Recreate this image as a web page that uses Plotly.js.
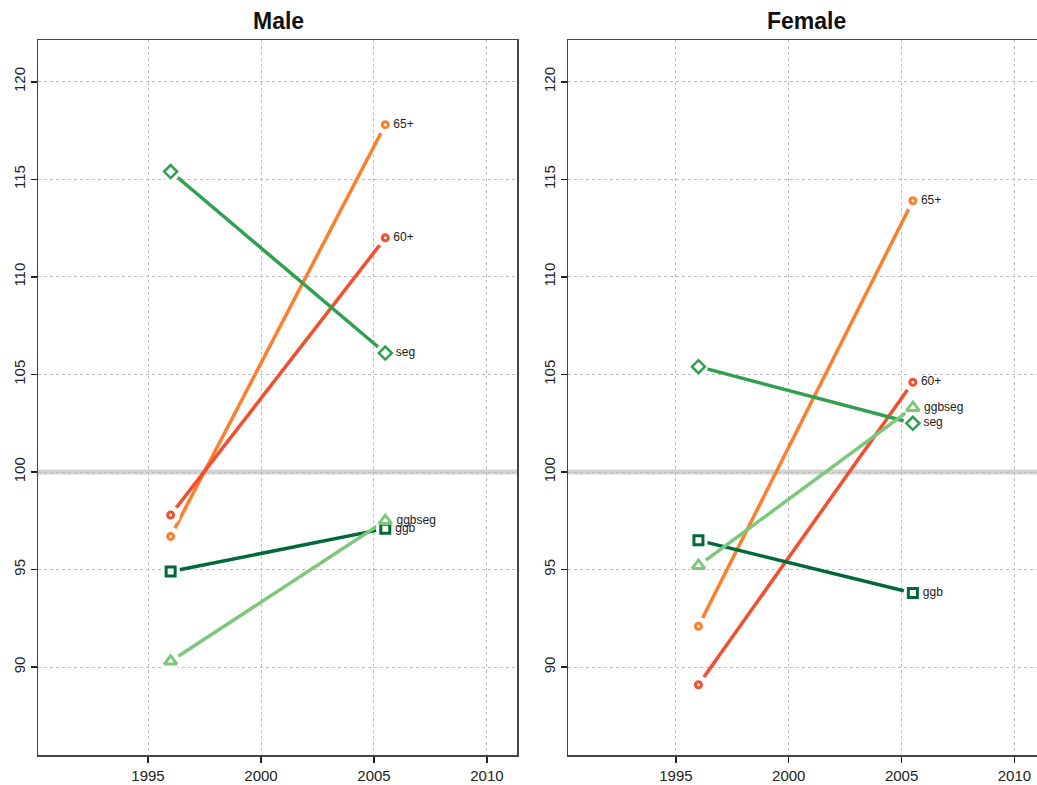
<!DOCTYPE html>
<html>
<head>
<meta charset="utf-8">
<script src="https://cdn.plot.ly/plotly-3.0.1.min.js"></script>
<style>html,body{margin:0;padding:0;overflow:hidden;background:#fff}</style>
</head>
<body>
<div id="chart" style="width:1037px;height:785px"></div>
<script>
// Data
const years = [1996, 2005.5];
const seriesNames = ["65+", "60+", "seg", "ggb", "ggbseg"];
const male65 = [96.7, 117.8];
const male60 = [97.8, 112.0];
const maleSeg = [115.4, 106.1];
const maleGgb = [94.9, 97.1];
const maleGgbseg = [90.3, 97.5];
const female65 = [92.1, 113.9];
const female60 = [89.1, 104.6];
const femaleSeg = [105.4, 102.5];
const femaleGgb = [96.5, 93.8];
const femaleGgbseg = [95.2, 103.3];
const xTicks = [1995, 2000, 2005, 2010];
const yTicks = [90, 95, 100, 105, 110, 115, 120];
const refValue = 100;

const colors = {"65+": "#FD7F2C", "60+": "#F44E2E", "seg": "#2EA050", "ggb": "#00693A", "ggbseg": "#7BC87A"};
const symbols = {"65+": "circle-open", "60+": "circle-open", "seg": "diamond-open", "ggb": "square-open", "ggbseg": "triangle-up-open"};
const sizes = {"65+": 6, "60+": 6, "seg": 10, "ggb": 9, "ggbseg": 11};
const lws = {"65+": 3, "60+": 3, "seg": 2.5, "ggb": 3, "ggbseg": 3};

const maleData = {"65+": male65, "60+": male60, "seg": maleSeg, "ggb": maleGgb, "ggbseg": maleGgbseg};
const femaleData = {"65+": female65, "60+": female60, "seg": femaleSeg, "ggb": femaleGgb, "ggbseg": femaleGgbseg};

const traces = [];
function addPanel(data, xa, ya) {
  seriesNames.forEach(n => {
    traces.push({x: years, y: data[n], xaxis: xa, yaxis: ya, mode: "lines",
      line: {color: colors[n], width: 3.5}, hoverinfo: "skip", showlegend: false});
  });
  seriesNames.forEach(n => {
    traces.push({x: years, y: data[n], xaxis: xa, yaxis: ya, mode: "markers",
      marker: {symbol: "circle", size: 19, color: "#ffffff", line: {width: 0}}, hoverinfo: "skip", showlegend: false});
  });
  seriesNames.forEach(n => {
    traces.push({x: years, y: data[n], xaxis: xa, yaxis: ya, mode: "markers+text",
      text: ["", " " + n], textposition: "middle right",
      textfont: {family: "Liberation Sans, Arial, sans-serif", size: 12, color: "#222"},
      marker: {symbol: symbols[n], size: sizes[n], color: colors[n], line: {color: colors[n], width: lws[n]}},
      showlegend: false, name: n});
  });
}
addPanel(maleData, "x", "y");
addPanel(femaleData, "x2", "y2");

const font = {family: "Liberation Sans, Arial, sans-serif", size: 15, color: "#222"};
const yDom = [30/785, 745/785];
function xAxis(dom, range) {
  return {domain: dom, range: range, tickvals: xTicks, ticks: "outside", ticklen: 6, tickwidth: 1.5, tickcolor: "#222",
    showline: true, linecolor: "#444", linewidth: 1.5, mirror: true, showgrid: true, gridcolor: "#bdbdbd",
    griddash: "dot", gridwidth: 1, zeroline: false, tickfont: font, fixedrange: true};
}
function yAxis(anchor, mirror) {
  return {domain: yDom, anchor: anchor, range: [85.5, 122.14], tickvals: yTicks, ticks: "outside", ticklen: 6, tickwidth: 1.5,
    tickcolor: "#222", tickangle: -90, showline: true, linecolor: "#444", linewidth: 1.5, mirror: mirror,
    showgrid: true, gridcolor: "#bdbdbd", griddash: "dot", gridwidth: 1, zeroline: false, tickfont: font, fixedrange: true};
}

const layout = {
  width: 1037, height: 785, margin: {l: 0, r: 0, t: 0, b: 0},
  paper_bgcolor: "#fff", plot_bgcolor: "#fff", showlegend: false,
  xaxis: Object.assign(xAxis([38/1037, 517/1037], [1990.13, 2011.33]), {anchor: "y"}),
  yaxis: yAxis("x", true),
  xaxis2: Object.assign(xAxis([568/1037, 1], [1990.22, 2011.0]), {anchor: "y2"}),
  yaxis2: yAxis("x2", false),
  shapes: [
    {type: "line", xref: "x domain", yref: "y", x0: 0, x1: 1, y0: refValue, y1: refValue, line: {color: "#d3d3d3", width: 5}, layer: "below"},
    {type: "line", xref: "x2 domain", yref: "y2", x0: 0, x1: 1, y0: refValue, y1: refValue, line: {color: "#d3d3d3", width: 5}, layer: "below"}
  ],
  annotations: [
    {text: "<b>Male</b>", xref: "paper", yref: "paper", x: 278/1037, y: 1 - 21/785, yanchor: "middle", xanchor: "center", showarrow: false,
      font: {family: "Liberation Sans, Arial, sans-serif", size: 23, color: "#111"}},
    {text: "<b>Female</b>", xref: "paper", yref: "paper", x: 806/1037, y: 1 - 21/785, yanchor: "middle", xanchor: "center", showarrow: false,
      font: {family: "Liberation Sans, Arial, sans-serif", size: 23, color: "#111"}}
  ]
};
Plotly.newPlot("chart", traces, layout, {displayModeBar: false, staticPlot: true});
</script>
</body>
</html>
